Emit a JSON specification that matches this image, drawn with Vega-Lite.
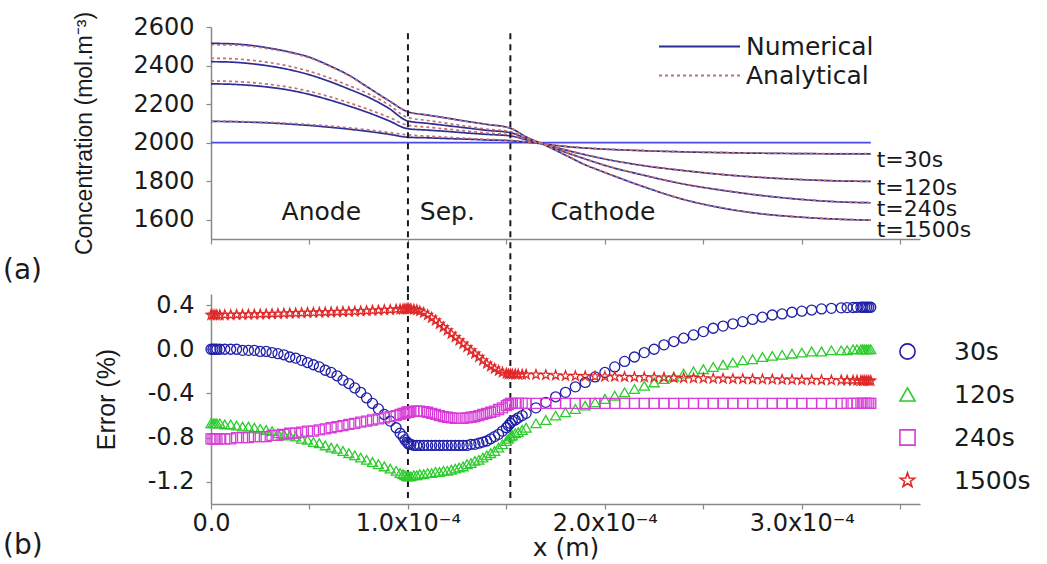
{
  "$schema": "https://vega.github.io/schema/vega-lite/v6.json",
  "background": "white",
  "padding": {"left": 3, "top": 11, "right": 10, "bottom": 4},
  "bounds": "flush",
  "spacing": 55,
  "config": {
    "font": "DejaVu Sans",
    "view": {"stroke": null},
    "axis": {
      "grid": false,
      "domainColor": "#888888",
      "domainWidth": 1.5,
      "tickColor": "#888888",
      "tickWidth": 1.2,
      "tickSize": 5,
      "labelFont": "DejaVu Sans",
      "labelFontSize": 24,
      "labelColor": "#1a1a1a",
      "labelPadding": 12,
      "labelFlush": false,
      "labelOverlap": false,
      "titleFont": "Liberation Sans",
      "titleFontSize": 23,
      "titleFontWeight": "normal",
      "titleColor": "#1a1a1a"
    },
    "legend": {"labelFont": "DejaVu Sans", "labelFontSize": 25, "labelColor": "#1a1a1a"},
    "title": {"font": "DejaVu Sans", "fontSize": 28, "fontWeight": "normal", "color": "#1a1a1a"}
  },
  "datasets": {
    "initial": [
      {"x": 0, "c": 2000},
      {"x": 3.35e-4, "c": 2000}
    ],
    "boundaries": [
      {"x": 1.0e-4},
      {"x": 1.52e-4}
    ],
    "regions": [
      {"label": "Anode", "x": 0.56e-4, "c": 1640},
      {"label": "Sep.", "x": 1.2e-4, "c": 1640},
      {"label": "Cathode", "x": 1.99e-4, "c": 1640}
    ],
    "times": [
      {"label": "t=30s", "x": 3.38e-4, "c": 1910},
      {"label": "t=120s", "x": 3.38e-4, "c": 1764},
      {"label": "t=240s", "x": 3.38e-4, "c": 1655},
      {"label": "t=1500s", "x": 3.38e-4, "c": 1546}
    ],
    "profiles": [
      {"method": "Numerical", "x": 0, "30s": 2110, "120s": 2305, "240s": 2420, "1500s": 2515},
      {"method": "Numerical", "x": 0.1e-4, "30s": 2109, "120s": 2303, "240s": 2418, "1500s": 2513},
      {"method": "Numerical", "x": 0.2e-4, "30s": 2106, "120s": 2297, "240s": 2410, "1500s": 2505},
      {"method": "Numerical", "x": 0.3e-4, "30s": 2102, "120s": 2287, "240s": 2397, "1500s": 2490},
      {"method": "Numerical", "x": 0.4e-4, "30s": 2096, "120s": 2272, "240s": 2378, "1500s": 2470},
      {"method": "Numerical", "x": 0.5e-4, "30s": 2089, "120s": 2250, "240s": 2352, "1500s": 2443},
      {"method": "Numerical", "x": 0.6e-4, "30s": 2080, "120s": 2222, "240s": 2318, "1500s": 2400},
      {"method": "Numerical", "x": 0.7e-4, "30s": 2070, "120s": 2190, "240s": 2278, "1500s": 2350},
      {"method": "Numerical", "x": 0.8e-4, "30s": 2058, "120s": 2155, "240s": 2235, "1500s": 2285},
      {"method": "Numerical", "x": 0.9e-4, "30s": 2044, "120s": 2115, "240s": 2180, "1500s": 2220},
      {"method": "Numerical", "x": 1.0e-4, "30s": 2028, "120s": 2072, "240s": 2112, "1500s": 2160},
      {"method": "Numerical", "x": 1.1e-4, "30s": 2025, "120s": 2065, "240s": 2100, "1500s": 2143},
      {"method": "Numerical", "x": 1.2e-4, "30s": 2021, "120s": 2058, "240s": 2088, "1500s": 2127},
      {"method": "Numerical", "x": 1.3e-4, "30s": 2018, "120s": 2050, "240s": 2076, "1500s": 2110},
      {"method": "Numerical", "x": 1.4e-4, "30s": 2014, "120s": 2043, "240s": 2064, "1500s": 2095},
      {"method": "Numerical", "x": 1.52e-4, "30s": 2010, "120s": 2035, "240s": 2052, "1500s": 2075},
      {"method": "Numerical", "x": 1.6e-4, "30s": 2003, "120s": 2015, "240s": 2022, "1500s": 2030},
      {"method": "Numerical", "x": 1.7e-4, "30s": 1992, "120s": 1990, "240s": 1988, "1500s": 1985},
      {"method": "Numerical", "x": 1.8e-4, "30s": 1980, "120s": 1962, "240s": 1950, "1500s": 1935},
      {"method": "Numerical", "x": 1.9e-4, "30s": 1972, "120s": 1937, "240s": 1915, "1500s": 1885},
      {"method": "Numerical", "x": 2.0e-4, "30s": 1966, "120s": 1915, "240s": 1882, "1500s": 1845},
      {"method": "Numerical", "x": 2.2e-4, "30s": 1958, "120s": 1880, "240s": 1830, "1500s": 1770},
      {"method": "Numerical", "x": 2.4e-4, "30s": 1952, "120s": 1855, "240s": 1785, "1500s": 1705},
      {"method": "Numerical", "x": 2.6e-4, "30s": 1948, "120s": 1834, "240s": 1752, "1500s": 1660},
      {"method": "Numerical", "x": 2.8e-4, "30s": 1945, "120s": 1819, "240s": 1725, "1500s": 1630},
      {"method": "Numerical", "x": 3.0e-4, "30s": 1943, "120s": 1808, "240s": 1705, "1500s": 1613},
      {"method": "Numerical", "x": 3.2e-4, "30s": 1942, "120s": 1801, "240s": 1692, "1500s": 1602},
      {"method": "Numerical", "x": 3.35e-4, "30s": 1942, "120s": 1799, "240s": 1688, "1500s": 1598},
      {"method": "Analytical", "x": 0, "30s": 2112, "120s": 2320, "240s": 2438, "1500s": 2508},
      {"method": "Analytical", "x": 0.1e-4, "30s": 2111, "120s": 2318, "240s": 2436, "1500s": 2507},
      {"method": "Analytical", "x": 0.2e-4, "30s": 2108, "120s": 2312, "240s": 2428, "1500s": 2500},
      {"method": "Analytical", "x": 0.3e-4, "30s": 2105, "120s": 2302, "240s": 2415, "1500s": 2486},
      {"method": "Analytical", "x": 0.4e-4, "30s": 2100, "120s": 2287, "240s": 2396, "1500s": 2467},
      {"method": "Analytical", "x": 0.5e-4, "30s": 2094, "120s": 2266, "240s": 2370, "1500s": 2440},
      {"method": "Analytical", "x": 0.6e-4, "30s": 2086, "120s": 2239, "240s": 2336, "1500s": 2398},
      {"method": "Analytical", "x": 0.7e-4, "30s": 2077, "120s": 2207, "240s": 2296, "1500s": 2348},
      {"method": "Analytical", "x": 0.8e-4, "30s": 2066, "120s": 2172, "240s": 2253, "1500s": 2284},
      {"method": "Analytical", "x": 0.9e-4, "30s": 2053, "120s": 2133, "240s": 2198, "1500s": 2219},
      {"method": "Analytical", "x": 1.0e-4, "30s": 2040, "120s": 2090, "240s": 2130, "1500s": 2160},
      {"method": "Analytical", "x": 1.1e-4, "30s": 2034, "120s": 2080, "240s": 2115, "1500s": 2143},
      {"method": "Analytical", "x": 1.2e-4, "30s": 2028, "120s": 2070, "240s": 2100, "1500s": 2127},
      {"method": "Analytical", "x": 1.3e-4, "30s": 2022, "120s": 2060, "240s": 2085, "1500s": 2110},
      {"method": "Analytical", "x": 1.4e-4, "30s": 2017, "120s": 2050, "240s": 2070, "1500s": 2095},
      {"method": "Analytical", "x": 1.52e-4, "30s": 2012, "120s": 2040, "240s": 2057, "1500s": 2075},
      {"method": "Analytical", "x": 1.6e-4, "30s": 2004, "120s": 2017, "240s": 2024, "1500s": 2030},
      {"method": "Analytical", "x": 1.7e-4, "30s": 1993, "120s": 1991, "240s": 1989, "1500s": 1985},
      {"method": "Analytical", "x": 1.8e-4, "30s": 1981, "120s": 1963, "240s": 1951, "1500s": 1935},
      {"method": "Analytical", "x": 1.9e-4, "30s": 1973, "120s": 1938, "240s": 1916, "1500s": 1885},
      {"method": "Analytical", "x": 2.0e-4, "30s": 1967, "120s": 1916, "240s": 1883, "1500s": 1845},
      {"method": "Analytical", "x": 2.2e-4, "30s": 1959, "120s": 1881, "240s": 1831, "1500s": 1770},
      {"method": "Analytical", "x": 2.4e-4, "30s": 1953, "120s": 1856, "240s": 1786, "1500s": 1705},
      {"method": "Analytical", "x": 2.6e-4, "30s": 1949, "120s": 1835, "240s": 1753, "1500s": 1660},
      {"method": "Analytical", "x": 2.8e-4, "30s": 1946, "120s": 1820, "240s": 1726, "1500s": 1630},
      {"method": "Analytical", "x": 3.0e-4, "30s": 1944, "120s": 1809, "240s": 1706, "1500s": 1613},
      {"method": "Analytical", "x": 3.2e-4, "30s": 1943, "120s": 1802, "240s": 1693, "1500s": 1602},
      {"method": "Analytical", "x": 3.35e-4, "30s": 1943, "120s": 1800, "240s": 1689, "1500s": 1598}
    ],
    "errors": [
      {"x": 0, "30s": 0.0, "120s": -0.67, "240s": -0.81, "1500s": 0.31},
      {"x": 0.01e-4, "30s": 0.0, "120s": -0.67, "240s": -0.81, "1500s": 0.31},
      {"x": 0.02e-4, "30s": 0.0, "120s": -0.67, "240s": -0.81, "1500s": 0.31},
      {"x": 0.03e-4, "30s": 0.0, "120s": -0.67, "240s": -0.81, "1500s": 0.31},
      {"x": 0.045e-4, "30s": 0.0, "120s": -0.67, "240s": -0.81, "1500s": 0.31},
      {"x": 0.07e-4, "30s": 0.0, "120s": -0.68, "240s": -0.81, "1500s": 0.31},
      {"x": 0.1e-4, "30s": 0.0, "120s": -0.68, "240s": -0.81, "1500s": 0.31},
      {"x": 0.13e-4, "30s": 0.0, "120s": -0.69, "240s": -0.80, "1500s": 0.312},
      {"x": 0.16e-4, "30s": -0.01, "120s": -0.70, "240s": -0.80, "1500s": 0.313},
      {"x": 0.19e-4, "30s": -0.01, "120s": -0.70, "240s": -0.80, "1500s": 0.314},
      {"x": 0.22e-4, "30s": -0.01, "120s": -0.71, "240s": -0.79, "1500s": 0.315},
      {"x": 0.25e-4, "30s": -0.02, "120s": -0.72, "240s": -0.79, "1500s": 0.316},
      {"x": 0.28e-4, "30s": -0.02, "120s": -0.73, "240s": -0.79, "1500s": 0.318},
      {"x": 0.31e-4, "30s": -0.03, "120s": -0.74, "240s": -0.78, "1500s": 0.32},
      {"x": 0.34e-4, "30s": -0.04, "120s": -0.76, "240s": -0.78, "1500s": 0.321},
      {"x": 0.37e-4, "30s": -0.05, "120s": -0.77, "240s": -0.77, "1500s": 0.323},
      {"x": 0.4e-4, "30s": -0.07, "120s": -0.78, "240s": -0.76, "1500s": 0.325},
      {"x": 0.43e-4, "30s": -0.08, "120s": -0.79, "240s": -0.76, "1500s": 0.326},
      {"x": 0.46e-4, "30s": -0.10, "120s": -0.81, "240s": -0.75, "1500s": 0.328},
      {"x": 0.49e-4, "30s": -0.12, "120s": -0.82, "240s": -0.74, "1500s": 0.33},
      {"x": 0.52e-4, "30s": -0.14, "120s": -0.84, "240s": -0.74, "1500s": 0.331},
      {"x": 0.55e-4, "30s": -0.16, "120s": -0.85, "240s": -0.73, "1500s": 0.333},
      {"x": 0.58e-4, "30s": -0.19, "120s": -0.87, "240s": -0.72, "1500s": 0.334},
      {"x": 0.61e-4, "30s": -0.21, "120s": -0.89, "240s": -0.71, "1500s": 0.336},
      {"x": 0.64e-4, "30s": -0.24, "120s": -0.90, "240s": -0.70, "1500s": 0.337},
      {"x": 0.67e-4, "30s": -0.28, "120s": -0.92, "240s": -0.69, "1500s": 0.339},
      {"x": 0.7e-4, "30s": -0.31, "120s": -0.94, "240s": -0.68, "1500s": 0.34},
      {"x": 0.73e-4, "30s": -0.35, "120s": -0.96, "240s": -0.67, "1500s": 0.342},
      {"x": 0.76e-4, "30s": -0.39, "120s": -0.98, "240s": -0.66, "1500s": 0.345},
      {"x": 0.79e-4, "30s": -0.44, "120s": -1.00, "240s": -0.65, "1500s": 0.347},
      {"x": 0.82e-4, "30s": -0.49, "120s": -1.02, "240s": -0.64, "1500s": 0.35},
      {"x": 0.85e-4, "30s": -0.54, "120s": -1.04, "240s": -0.63, "1500s": 0.352},
      {"x": 0.88e-4, "30s": -0.59, "120s": -1.06, "240s": -0.62, "1500s": 0.355},
      {"x": 0.91e-4, "30s": -0.65, "120s": -1.08, "240s": -0.61, "1500s": 0.357},
      {"x": 0.94e-4, "30s": -0.71, "120s": -1.10, "240s": -0.60, "1500s": 0.36},
      {"x": 0.96e-4, "30s": -0.76, "120s": -1.12, "240s": -0.59, "1500s": 0.362},
      {"x": 0.975e-4, "30s": -0.79, "120s": -1.13, "240s": -0.58, "1500s": 0.363},
      {"x": 0.985e-4, "30s": -0.82, "120s": -1.14, "240s": -0.58, "1500s": 0.364},
      {"x": 0.995e-4, "30s": -0.84, "120s": -1.15, "240s": -0.57, "1500s": 0.365},
      {"x": 1.0e-4, "30s": -0.85, "120s": -1.15, "240s": -0.57, "1500s": 0.365},
      {"x": 1.005e-4, "30s": -0.86, "120s": -1.15, "240s": -0.57, "1500s": 0.365},
      {"x": 1.015e-4, "30s": -0.86, "120s": -1.15, "240s": -0.565, "1500s": 0.365},
      {"x": 1.03e-4, "30s": -0.87, "120s": -1.14, "240s": -0.56, "1500s": 0.36},
      {"x": 1.045e-4, "30s": -0.87, "120s": -1.14, "240s": -0.56, "1500s": 0.355},
      {"x": 1.06e-4, "30s": -0.87, "120s": -1.13, "240s": -0.56, "1500s": 0.345},
      {"x": 1.08e-4, "30s": -0.87, "120s": -1.13, "240s": -0.565, "1500s": 0.33},
      {"x": 1.1e-4, "30s": -0.87, "120s": -1.12, "240s": -0.57, "1500s": 0.31},
      {"x": 1.12e-4, "30s": -0.87, "120s": -1.12, "240s": -0.58, "1500s": 0.285},
      {"x": 1.14e-4, "30s": -0.87, "120s": -1.11, "240s": -0.59, "1500s": 0.26},
      {"x": 1.16e-4, "30s": -0.87, "120s": -1.11, "240s": -0.60, "1500s": 0.23},
      {"x": 1.18e-4, "30s": -0.87, "120s": -1.10, "240s": -0.61, "1500s": 0.20},
      {"x": 1.2e-4, "30s": -0.87, "120s": -1.10, "240s": -0.615, "1500s": 0.17},
      {"x": 1.22e-4, "30s": -0.87, "120s": -1.09, "240s": -0.62, "1500s": 0.14},
      {"x": 1.24e-4, "30s": -0.87, "120s": -1.08, "240s": -0.625, "1500s": 0.11},
      {"x": 1.26e-4, "30s": -0.87, "120s": -1.07, "240s": -0.625, "1500s": 0.08},
      {"x": 1.28e-4, "30s": -0.87, "120s": -1.06, "240s": -0.625, "1500s": 0.05},
      {"x": 1.3e-4, "30s": -0.87, "120s": -1.04, "240s": -0.62, "1500s": 0.02},
      {"x": 1.32e-4, "30s": -0.86, "120s": -1.03, "240s": -0.615, "1500s": -0.01},
      {"x": 1.34e-4, "30s": -0.86, "120s": -1.01, "240s": -0.61, "1500s": -0.04},
      {"x": 1.36e-4, "30s": -0.85, "120s": -1.00, "240s": -0.60, "1500s": -0.07},
      {"x": 1.38e-4, "30s": -0.84, "120s": -0.98, "240s": -0.59, "1500s": -0.10},
      {"x": 1.4e-4, "30s": -0.83, "120s": -0.96, "240s": -0.58, "1500s": -0.13},
      {"x": 1.42e-4, "30s": -0.81, "120s": -0.94, "240s": -0.57, "1500s": -0.155},
      {"x": 1.44e-4, "30s": -0.79, "120s": -0.92, "240s": -0.56, "1500s": -0.175},
      {"x": 1.46e-4, "30s": -0.77, "120s": -0.89, "240s": -0.545, "1500s": -0.195},
      {"x": 1.48e-4, "30s": -0.74, "120s": -0.86, "240s": -0.53, "1500s": -0.21},
      {"x": 1.5e-4, "30s": -0.71, "120s": -0.83, "240s": -0.51, "1500s": -0.22},
      {"x": 1.51e-4, "30s": -0.69, "120s": -0.81, "240s": -0.50, "1500s": -0.225},
      {"x": 1.52e-4, "30s": -0.67, "120s": -0.79, "240s": -0.49, "1500s": -0.225},
      {"x": 1.53e-4, "30s": -0.65, "120s": -0.78, "240s": -0.49, "1500s": -0.225},
      {"x": 1.545e-4, "30s": -0.64, "120s": -0.76, "240s": -0.49, "1500s": -0.226},
      {"x": 1.56e-4, "30s": -0.62, "120s": -0.75, "240s": -0.49, "1500s": -0.227},
      {"x": 1.58e-4, "30s": -0.60, "120s": -0.73, "240s": -0.49, "1500s": -0.228},
      {"x": 1.6e-4, "30s": -0.58, "120s": -0.71, "240s": -0.49, "1500s": -0.229},
      {"x": 1.65e-4, "30s": -0.53, "120s": -0.67, "240s": -0.49, "1500s": -0.23},
      {"x": 1.7e-4, "30s": -0.48, "120s": -0.64, "240s": -0.49, "1500s": -0.233},
      {"x": 1.75e-4, "30s": -0.43, "120s": -0.60, "240s": -0.49, "1500s": -0.236},
      {"x": 1.8e-4, "30s": -0.39, "120s": -0.57, "240s": -0.49, "1500s": -0.24},
      {"x": 1.85e-4, "30s": -0.34, "120s": -0.54, "240s": -0.49, "1500s": -0.242},
      {"x": 1.9e-4, "30s": -0.30, "120s": -0.51, "240s": -0.49, "1500s": -0.244},
      {"x": 1.95e-4, "30s": -0.25, "120s": -0.48, "240s": -0.49, "1500s": -0.246},
      {"x": 2.0e-4, "30s": -0.21, "120s": -0.45, "240s": -0.49, "1500s": -0.247},
      {"x": 2.05e-4, "30s": -0.16, "120s": -0.42, "240s": -0.49, "1500s": -0.248},
      {"x": 2.1e-4, "30s": -0.11, "120s": -0.39, "240s": -0.49, "1500s": -0.25},
      {"x": 2.15e-4, "30s": -0.07, "120s": -0.36, "240s": -0.49, "1500s": -0.252},
      {"x": 2.2e-4, "30s": -0.03, "120s": -0.33, "240s": -0.49, "1500s": -0.253},
      {"x": 2.25e-4, "30s": 0.0, "120s": -0.30, "240s": -0.49, "1500s": -0.255},
      {"x": 2.3e-4, "30s": 0.04, "120s": -0.27, "240s": -0.49, "1500s": -0.256},
      {"x": 2.35e-4, "30s": 0.07, "120s": -0.25, "240s": -0.49, "1500s": -0.258},
      {"x": 2.4e-4, "30s": 0.10, "120s": -0.22, "240s": -0.49, "1500s": -0.26},
      {"x": 2.45e-4, "30s": 0.13, "120s": -0.20, "240s": -0.49, "1500s": -0.262},
      {"x": 2.5e-4, "30s": 0.16, "120s": -0.18, "240s": -0.49, "1500s": -0.263},
      {"x": 2.55e-4, "30s": 0.19, "120s": -0.16, "240s": -0.49, "1500s": -0.265},
      {"x": 2.6e-4, "30s": 0.21, "120s": -0.14, "240s": -0.49, "1500s": -0.266},
      {"x": 2.65e-4, "30s": 0.23, "120s": -0.12, "240s": -0.49, "1500s": -0.268},
      {"x": 2.7e-4, "30s": 0.25, "120s": -0.10, "240s": -0.49, "1500s": -0.269},
      {"x": 2.75e-4, "30s": 0.27, "120s": -0.09, "240s": -0.49, "1500s": -0.27},
      {"x": 2.8e-4, "30s": 0.29, "120s": -0.07, "240s": -0.49, "1500s": -0.272},
      {"x": 2.85e-4, "30s": 0.31, "120s": -0.06, "240s": -0.49, "1500s": -0.273},
      {"x": 2.9e-4, "30s": 0.32, "120s": -0.05, "240s": -0.49, "1500s": -0.275},
      {"x": 2.95e-4, "30s": 0.335, "120s": -0.04, "240s": -0.49, "1500s": -0.276},
      {"x": 3.0e-4, "30s": 0.345, "120s": -0.03, "240s": -0.49, "1500s": -0.277},
      {"x": 3.05e-4, "30s": 0.355, "120s": -0.02, "240s": -0.49, "1500s": -0.278},
      {"x": 3.1e-4, "30s": 0.365, "120s": -0.02, "240s": -0.49, "1500s": -0.279},
      {"x": 3.15e-4, "30s": 0.37, "120s": -0.01, "240s": -0.49, "1500s": -0.28},
      {"x": 3.2e-4, "30s": 0.375, "120s": -0.01, "240s": -0.49, "1500s": -0.281},
      {"x": 3.23e-4, "30s": 0.377, "120s": -0.01, "240s": -0.49, "1500s": -0.282},
      {"x": 3.26e-4, "30s": 0.378, "120s": 0.0, "240s": -0.49, "1500s": -0.283},
      {"x": 3.28e-4, "30s": 0.379, "120s": 0.0, "240s": -0.49, "1500s": -0.283},
      {"x": 3.3e-4, "30s": 0.38, "120s": 0.0, "240s": -0.49, "1500s": -0.284},
      {"x": 3.31e-4, "30s": 0.38, "120s": 0.0, "240s": -0.49, "1500s": -0.284},
      {"x": 3.32e-4, "30s": 0.38, "120s": 0.0, "240s": -0.49, "1500s": -0.284},
      {"x": 3.33e-4, "30s": 0.38, "120s": 0.0, "240s": -0.49, "1500s": -0.285},
      {"x": 3.34e-4, "30s": 0.38, "120s": 0.0, "240s": -0.49, "1500s": -0.285},
      {"x": 3.35e-4, "30s": 0.38, "120s": 0.0, "240s": -0.49, "1500s": -0.285}
    ]
  },
  "resolve": {
    "scale": {"color": "independent", "shape": "independent", "strokeDash": "independent"},
    "legend": {"color": "independent", "shape": "independent", "strokeDash": "independent"}
  },
  "vconcat": [
    {
      "width": 709,
      "height": 212,
      "title": {"text": "(a)", "orient": "bottom", "anchor": "start", "frame": "group", "dx": -208, "dy": -52, "offset": 14},
      "layer": [
        {
          "data": {"name": "initial"},
          "mark": {"type": "line", "color": "#4a4ae6", "strokeWidth": 1.6},
          "encoding": {
            "x": {
              "field": "x", "type": "quantitative",
              "scale": {"domain": [0, 3.6e-4], "nice": false},
              "axis": {"values": [0, 0.5e-4, 1.0e-4, 1.5e-4, 2.0e-4, 2.5e-4, 3.0e-4, 3.5e-4], "labels": false, "title": null}
            },
            "y": {
              "field": "c", "type": "quantitative",
              "scale": {"domain": [1500, 2600], "nice": false},
              "axis": {
                "values": [1600, 1800, 2000, 2200, 2400, 2600],
                "format": "d",
                "title": "Concentration (mol.m⁻³)",
                "titlePadding": 36
              }
            }
          }
        },
        {
          "data": {"name": "profiles"},
          "transform": [{"fold": ["30s", "120s", "240s", "1500s"], "as": ["time", "c"]}],
          "mark": {"type": "line", "interpolate": "monotone", "strokeWidth": 1.7},
          "encoding": {
            "x": {"field": "x", "type": "quantitative"},
            "y": {"field": "c", "type": "quantitative"},
            "detail": {"field": "time"},
            "color": {
              "field": "method", "type": "nominal",
              "scale": {"domain": ["Numerical", "Analytical"], "range": ["#2d2d96", "#c27070"]},
              "legend": {"title": null, "orient": "none", "legendX": 447, "legendY": 5, "symbolType": "M-1,0L5,0", "symbolSize": 729, "symbolStrokeWidth": 2, "labelOffset": 59, "rowPadding": 1}
            },
            "strokeDash": {
              "field": "method", "type": "nominal",
              "scale": {"domain": ["Numerical", "Analytical"], "range": [[1, 0], [3, 3]]},
              "legend": {"title": null, "orient": "none", "legendX": 447, "legendY": 5, "symbolType": "M-1,0L5,0", "symbolSize": 729, "symbolStrokeWidth": 2, "labelOffset": 59, "rowPadding": 1}
            }
          }
        },
        {
          "data": {"name": "boundaries"},
          "mark": {"type": "rule", "strokeDash": [6, 5], "strokeWidth": 2, "color": "#1a1a1a"},
          "encoding": {
            "x": {"field": "x", "type": "quantitative"},
            "y": {"datum": 2568, "type": "quantitative"},
            "y2": {"datum": 1215}
          }
        },
        {
          "data": {"name": "regions"},
          "mark": {"type": "text", "fontSize": 25, "align": "center", "baseline": "middle", "color": "#1a1a1a"},
          "encoding": {
            "x": {"field": "x", "type": "quantitative"},
            "y": {"field": "c", "type": "quantitative"},
            "text": {"field": "label"}
          }
        },
        {
          "data": {"name": "times"},
          "mark": {"type": "text", "fontSize": 22, "align": "left", "baseline": "middle", "color": "#1a1a1a"},
          "encoding": {
            "x": {"field": "x", "type": "quantitative"},
            "y": {"field": "c", "type": "quantitative"},
            "text": {"field": "label"}
          }
        }
      ]
    },
    {
      "width": 709,
      "height": 210,
      "title": {"text": "(b)", "orient": "bottom", "anchor": "start", "frame": "group", "dx": -208, "dy": -28, "offset": 0},
      "layer": [
        {
          "data": {"name": "boundaries"},
          "mark": {"type": "rule", "strokeDash": [6, 5], "strokeWidth": 2, "color": "#1a1a1a"},
          "encoding": {
            "x": {
              "field": "x", "type": "quantitative",
              "scale": {"domain": [0, 3.6e-4], "nice": false},
              "axis": {
                "values": [0, 0.5e-4, 1.0e-4, 1.5e-4, 2.0e-4, 2.5e-4, 3.0e-4, 3.5e-4],
                "labelExpr": "abs(datum.value) < 1e-9 ? '0.0' : abs(datum.value - 1e-4) < 1e-9 ? '1.0x10⁻⁴' : abs(datum.value - 2e-4) < 1e-9 ? '2.0x10⁻⁴' : abs(datum.value - 3e-4) < 1e-9 ? '3.0x10⁻⁴' : ''",
                "labelPadding": 2,
                "title": "x (m)",
                "titleFont": "DejaVu Sans",
                "titleFontSize": 25,
                "titlePadding": 0
              }
            },
            "y": {
              "datum": 0.5, "type": "quantitative",
              "scale": {"domain": [-1.4, 0.5], "nice": false},
              "axis": {
                "values": [-1.2, -0.8, -0.4, 0, 0.4],
                "format": ".1f",
                "labelExpr": "replace(datum.label, '−', '-')",
                "title": "Error (%)",
                "titleFontSize": 25,
                "titlePadding": 28
              }
            },
            "y2": {"datum": -1.38}
          }
        },
        {
          "data": {"name": "errors"},
          "transform": [{"fold": ["30s", "120s", "240s", "1500s"], "as": ["series", "err"]}],
          "mark": {"type": "point", "filled": false, "size": 100, "strokeWidth": 1.3, "opacity": 1},
          "encoding": {
            "x": {"field": "x", "type": "quantitative"},
            "y": {"field": "err", "type": "quantitative"},
            "color": {
              "field": "series", "type": "nominal",
              "scale": {"domain": ["30s", "120s", "240s", "1500s"], "range": ["#1f1fa8", "#2ccc2c", "#d83cd8", "#e02828"]},
              "legend": {"title": null, "orient": "none", "legendX": 684, "legendY": 45, "symbolSize": 230, "symbolStrokeWidth": 1.6, "labelOffset": 34, "rowPadding": 17}
            },
            "shape": {
              "field": "series", "type": "nominal",
              "scale": {"domain": ["30s", "120s", "240s", "1500s"], "range": ["circle", "triangle-up", "square", "M0,-1L0.235,-0.324L0.951,-0.309L0.38,0.124L0.588,0.809L0,0.4L-0.588,0.809L-0.38,0.124L-0.951,-0.309L-0.235,-0.324Z"]},
              "legend": {"title": null, "orient": "none", "legendX": 684, "legendY": 45, "symbolSize": 230, "symbolStrokeWidth": 1.6, "labelOffset": 34, "rowPadding": 17}
            }
          }
        }
      ]
    }
  ]
}
